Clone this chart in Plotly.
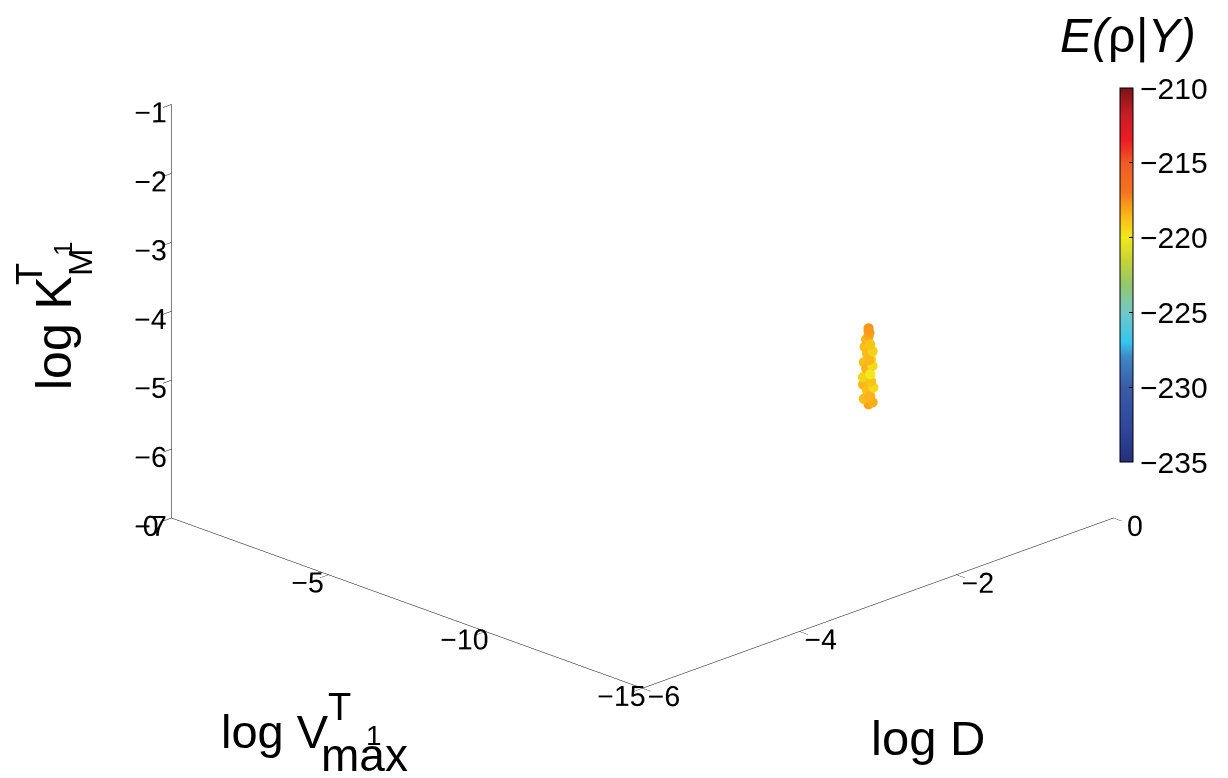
import plotly.graph_objects as go

# ---- data ----
log_K = [-5.05, -5.01, -4.98, -4.94, -4.91, -4.87, -4.84, -4.80, -4.77, -4.73,
         -4.70, -4.66, -4.62, -4.59, -4.55, -4.52, -4.48, -4.45, -4.41, -4.38,
         -4.34, -4.30, -4.27, -4.23, -4.20, -4.16, -4.13, -4.09, -4.06, -4.02,
         -3.99, -3.95]
log_D = [-1.92, -1.91, -1.94, -1.90, -1.95, -1.89, -1.94, -1.90, -1.95, -1.89,
         -1.93, -1.95, -1.90, -1.94, -1.89, -1.95, -1.91, -1.94, -1.89, -1.95,
         -1.90, -1.94, -1.91, -1.93, -1.90, -1.94, -1.91, -1.93, -1.92, -1.91,
         -1.92, -1.92]
log_V = [-12.0, -12.1, -11.9, -12.0, -12.1, -11.9, -12.0, -12.1, -11.9, -12.0,
         -12.1, -11.9, -12.0, -12.1, -11.9, -12.0, -12.1, -11.9, -12.0, -12.1,
         -11.9, -12.0, -12.1, -11.9, -12.0, -12.1, -11.9, -12.0, -12.0, -12.0,
         -12.0, -12.0]
E_rho = [-218.0, -218.3, -218.6, -218.9, -218.4, -219.2, -218.7, -219.5, -218.5, -219.8,
         -218.9, -219.4, -218.6, -220.0, -219.2, -218.4, -219.6, -218.8, -219.9, -218.5,
         -219.0, -218.6, -219.3, -218.7, -218.4, -218.9, -218.3, -218.6, -218.2, -218.0,
         -217.9, -217.8]

D_ticks = [-6, -4, -2, 0]
V_ticks = [-15, -10, -5, 0]
K_ticks = [-7, -6, -5, -4, -3, -2, -1]
cbar_ticks = [-235, -230, -225, -220, -215, -210]

colorscale = [
    [0.00, "#23307a"], [0.08, "#2e449a"], [0.20, "#3a5ca8"], [0.28, "#3f86c5"],
    [0.32, "#35c5ef"], [0.40, "#70c9c8"], [0.48, "#98c866"], [0.54, "#c8d435"],
    [0.60, "#f2e81a"], [0.66, "#fbb717"], [0.72, "#f3751f"], [0.80, "#f15a24"],
    [0.86, "#ed1c24"], [0.93, "#c71e25"], [1.00, "#7a1416"],
]

FONT = "Liberation Sans, Arial, sans-serif"
W, H = 1228, 778

fig = go.Figure()
fig.add_trace(go.Scatter3d(
    x=log_D, y=log_V, z=log_K, mode="markers",
    marker=dict(size=6, color=E_rho, colorscale=colorscale, cmin=-235, cmax=-210,
                line=dict(width=0), opacity=1,
                colorbar=dict(
                    x=1112 / W, xanchor="left", xpad=0, ypad=0,
                    y=1 - 267 / H, yanchor="middle",
                    len=374, lenmode="pixels", thickness=13,
                    outlinecolor="black", outlinewidth=1,
                    tickvals=cbar_ticks, ticks="inside", ticklen=4, tickcolor="black",
                    tickfont=dict(family=FONT, size=30, color="black"),
                )),
    showlegend=False, hoverinfo="skip",
))

def ax(rng, tv):
    return dict(range=rng, tickvals=tv, showbackground=False, showgrid=False,
                zeroline=False, showline=True, linecolor="black", linewidth=1,
                ticks="outside", ticklen=12, tickcolor="black", showspikes=False,
                tickangle=0,
                title=dict(text=""), tickfont=dict(family=FONT, size=18.5, color="black"))

S = 1.712
cx, cy, cz = -0.0372, 0.0372, -0.2365
k = 2.25
fig.update_layout(
    width=W, height=H, paper_bgcolor="white", plot_bgcolor="white",
    margin=dict(l=0, r=0, t=0, b=0),
    font=dict(family=FONT, color="black"),
    scene=dict(
        domain=dict(x=[0, 1], y=[0, 1]),
        xaxis=ax([-6, 0], D_ticks),
        yaxis=ax([-15, 0], V_ticks),
        zaxis=ax([-7, -1], K_ticks),
        aspectmode="manual", aspectratio=dict(x=S, y=S, z=0.666 * S),
        camera=dict(eye=dict(x=-0.589 * k + cx, y=-0.589 * k + cy, z=0.323 * k + cz),
                    center=dict(x=cx, y=cy, z=cz),
                    up=dict(x=0, y=0, z=1),
                    projection=dict(type="orthographic")),
    ),
)

def ann(text, px, py, size, angle=0):
    fig.add_annotation(text=text, x=px / W, y=1 - py / H, xref="paper", yref="paper",
                       showarrow=False, xanchor="center", yanchor="middle",
                       textangle=angle,
                       font=dict(family=FONT, size=size, color="black"))

# colorbar title
fig.add_annotation(text="<i>E(</i>ρ<i>|Y)</i>", x=1120 / W, y=1 - 28 / H, xref="paper", yref="paper",
                   showarrow=False, xanchor="center", yanchor="middle",
                   font=dict(family=FONT, size=48, color="black"))
# log V title
ann("log V", 267, 723, 47)
ann("T", 331, 699, 38)
ann("1", 366, 727, 28)
ann("max", 356, 747, 46)
# log D title
ann("log D", 920, 730, 49)
# log K title (rotated)
ann("log K", 46, 325, 50, angle=-90)
ann("T", 22, 266, 36, angle=-90)
ann("M", 72, 254, 33, angle=-90)
ann("1", 55, 241, 26, angle=-90)

fig.write_html("out.html")
